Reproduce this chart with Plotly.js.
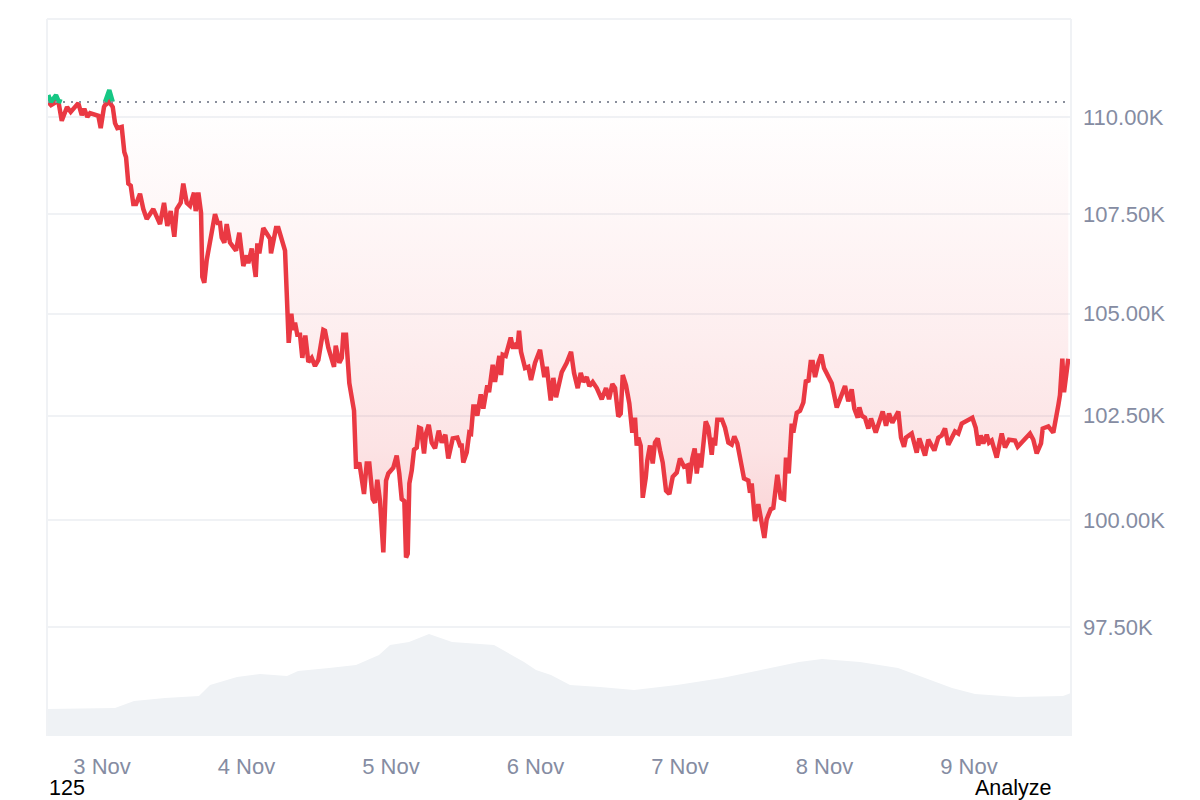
<!DOCTYPE html>
<html><head><meta charset="utf-8">
<script src="https://cdn.plot.ly/plotly-3.0.1.min.js"></script>
<style>html,body{margin:0;padding:0;background:#fff}</style></head>
<body><div id="chart" style="width:1200px;height:800px"></div>
<script>
// hours since 3 Nov 00:00
const hours=[-8.92,-8.47,-7.64,-7.23,-6.69,-6.15,-5.81,-5.2,-3.94,-3.37,-2.94,-2.44,-1.99,-0.61,-0.22,0.33,0.5,1.21,1.78,2.16,2.54,3.27,3.7,3.99,4.37,4.77,5.2,5.65,6.31,6.86,7.43,8.52,9.63,10.3,10.85,11.41,12.01,12.41,13.07,13.5,14.07,14.62,15.28,15.56,16,16.45,16.66,16.99,17.39,18.77,19.22,19.6,19.88,20.32,20.71,21.26,22.26,22.81,23.47,24.04,24.3,24.87,25.53,25.8,26.13,26.79,27.91,28.07,28.9,29.29,29.85,30.4,30.68,31.01,31.45,31.73,32.06,32.44,32.89,33.27,33.77,34.27,34.83,35.38,35.93,36.76,37.04,37.59,38.54,38.82,39.42,39.82,40.08,40.53,41.08,41.64,41.86,42.19,42.41,42.74,43.14,43.52,43.97,44.4,44.97,45.35,45.73,46.18,46.73,47.18,47.56,48.39,48.95,49.38,49.78,50.22,50.5,50.78,51.05,51.45,51.83,52.28,52.66,52.99,53.49,53.82,54.27,54.77,55.32,55.93,56.43,57.03,57.52,57.97,58.26,59.02,59.47,59.75,60.01,60.58,61.01,61.3,61.68,61.96,62.34,62.91,63.34,64,64.29,64.9,65.28,66,66.28,66.56,67.06,67.89,68.22,68.6,68.89,68.99,69.27,69.6,70.27,70.81,71.26,71.93,72.76,73.47,73.87,74.53,74.97,75.42,76.36,77.19,77.91,78.41,79.02,79.52,79.95,80.52,80.95,81.51,82.18,83.01,83.72,84.22,84.77,85.22,85.76,86.16,86.5,87.04,87.59,88.09,88.54,88.82,89.09,89.48,89.82,90.32,90.58,91.03,91.48,91.86,92.31,92.69,93.14,93.69,94.24,94.8,95.47,96.01,96.68,97.23,97.51,98.06,98.45,98.79,99.22,99.5,100.28,100.71,101.28,101.54,101.83,102.21,102.99,103.49,104.04,104.6,105.03,105.53,106.26,106.64,107.36,107.64,107.92,108.47,109.02,109.58,110.02,110.41,111.08,111.51,112.18,112.74,113.29,113.62,114.07,114.57,114.83,115.4,115.95,116.5,116.94,117.33,117.72,118.06,118.44,118.99,119.49,119.93,120.38,121.21,122.05,122.71,123.42,123.97,124.53,124.97,125.53,125.8,126.2,126.74,127.29,127.74,128.52,129.68,130.23,130.73,131.28,132.28,132.72,133.22,133.55,134.5,135.33,135.76,136.71,137.26,138.26,138.92,139.48,140.03,140.58,141.69,142.24,142.81,143.36,143.9,144.57,145.13,145.56,145.96,146.39,146.96,147.34,147.79,148.62,149.45,150,150.66,151.66,152.11,152.61,153.16,154.15,154.7,155.26,155.98,156.26,157.19,158.02,158.85,159.13,159.52,159.8,160.51];
// price in thousands of USD
const prices=[110.57,110.31,110.57,110.42,109.90,110.18,110.26,110.13,110.36,110.05,110.21,110.00,110.10,110.03,109.71,110.26,110.31,110.70,110.26,109.84,109.71,109.74,109.09,108.96,108.28,108.23,107.76,107.76,108.02,107.63,107.38,107.63,107.25,107.79,107.20,107.58,106.93,107.63,107.79,108.28,107.79,107.71,108.05,107.58,108.05,107.53,105.92,105.77,106.34,107.50,107.28,107.28,106.91,106.78,107.25,106.78,106.58,107.03,106.19,106.46,106.26,106.63,105.92,106.76,106.51,107.15,106.88,106.51,107.15,107.15,106.83,106.58,105.52,104.28,105.00,104.60,104.78,104.48,104.48,103.91,104.46,103.81,103.91,103.71,103.86,104.60,104.58,104.16,103.69,104.21,103.79,103.91,104.48,104.48,103.29,102.67,102.62,101.27,101.27,101.37,100.94,100.62,101.35,101.35,100.50,100.41,100.96,100.45,99.24,100.94,101.11,101.25,101.54,101.11,100.50,100.45,99.12,99.21,100.87,101.18,101.68,101.73,102.21,102.19,101.59,102.07,102.28,101.85,101.71,102.14,101.85,102.04,101.47,101.73,101.95,101.97,101.78,101.78,101.37,101.61,102.09,102.07,102.72,102.72,102.50,103.02,102.67,103.24,103.07,103.74,103.32,103.96,103.49,103.99,103.96,104.41,104.18,104.18,104.28,104.13,104.58,104.06,103.66,103.69,103.37,103.79,104.11,103.44,103.69,102.87,103.42,102.95,103.56,103.79,104.06,103.54,103.17,103.54,103.32,103.44,103.22,103.32,103.17,102.90,103.17,102.90,103.27,103.17,102.48,102.55,103.49,103.24,102.80,102.09,102.45,101.78,101.97,101.78,100.53,101.01,101.42,101.78,101.35,101.85,101.95,101.66,101.37,100.70,100.62,101.03,101.13,101.47,101.27,101.30,100.87,101.47,101.71,101.11,101.59,101.25,102.36,102.21,101.56,101.97,101.78,102.40,102.40,102.21,101.85,101.80,102.00,101.83,101.30,100.99,100.94,100.65,100.87,99.98,100.38,99.91,99.58,100.02,100.26,100.29,101.08,100.53,100.50,101.49,101.11,102.31,102.09,102.57,102.62,102.82,103.37,103.32,103.81,103.81,103.44,103.79,103.99,103.66,103.54,103.29,102.70,102.95,103.22,102.85,103.14,102.67,102.45,102.70,102.50,102.45,102.19,102.43,102.09,102.60,102.26,102.55,102.33,102.60,101.97,101.75,101.97,102.07,101.61,101.95,101.54,101.92,101.66,101.97,102.02,102.19,101.80,102.12,102.07,102.31,102.36,102.38,102.45,102.21,101.78,102.02,101.83,102.04,101.85,101.90,101.49,102.07,101.73,101.92,101.90,101.75,101.83,101.95,102.07,101.92,101.59,101.83,102.19,102.24,102.09,102.75,103.00,103.89,103.07,103.89];
const volHours=[-9.14,2.16,5.32,10.47,16.11,17.94,22.43,26.25,30.73,32.56,37.71,42.19,46.01,47.84,51,54.32,58.14,65.12,70.1,72.09,74.58,77.74,82.72,88.37,95.51,102.99,109.47,115.78,119.6,125.91,132.23,136.71,141.2,145.02,152,159.63,160.96];
const volumes=[27,28,35,38,40,51,59,62,60,65,68,71,81,91,94,102,94,91,74,66,61,51,49,46,51,58,66,74,77,74,68,58,48,42,39,40,43];
const basePrice=110.39;
const xTicks=[0,24,48,72,96,120,144];
const xLabels=['3 Nov','4 Nov','5 Nov','6 Nov','7 Nov','8 Nov','9 Nov'];
const yTicks=[97.5,100,102.5,105,107.5,110];
const yLabels=['97.50K','100.00K','102.50K','105.00K','107.50K','110.00K'];

const RED='#ea3943',GREEN='#16c784',GRID='#f0f2f5',LABEL='#858ca2';
const FONT='"Liberation Sans",Arial,sans-serif';
const lo=prices.map(p=>Math.min(p,basePrice));
const hi=prices.map(p=>Math.max(p,basePrice));
const hiLine=prices.map((p,i)=>(p>basePrice||prices[i-1]>basePrice||prices[i+1]>basePrice)?Math.max(p,basePrice):null);
const bx=[hours[0],hours[hours.length-1]];
const by=[basePrice,basePrice];
const none={width:0,color:'rgba(0,0,0,0)'};
const common={mode:'lines',hoverinfo:'skip',showlegend:false};
const traces=[
 {...common,x:volHours,y:volumes,yaxis:'y',fill:'tozeroy',fillcolor:'#eff2f5',line:none},
 {...common,x:bx,y:by,yaxis:'y2',line:none},
 {...common,x:hours,y:hi,yaxis:'y2',fill:'tonexty',fillcolor:GREEN,line:none},
 {...common,x:bx,y:by,yaxis:'y2',line:none},
 {...common,x:hours,y:lo,yaxis:'y2',fill:'tonexty',line:{color:RED,width:4.5},
  fillgradient:{type:'vertical',start:basePrice,stop:99,
   colorscale:[[0,'rgba(234,57,67,0)'],[0.5,'rgba(234,57,67,0.085)'],[0.75,'rgba(234,57,67,0.14)'],[1,'rgba(234,57,67,0.25)']]}},
 {...common,x:hours,y:hiLine,yaxis:'y2',line:{color:GREEN,width:4.5},connectgaps:false},
 {...common,x:[-9.14,160.3],y:by,yaxis:'y2',line:{color:'#8a8f9c',width:2,dash:'2px,6px'}}
];
const layout={
 width:1200,height:800,paper_bgcolor:'#fff',plot_bgcolor:'#fff',showlegend:false,
 margin:{l:47,r:129,t:19,b:64,pad:0},
 font:{family:FONT,size:22,color:LABEL},
 xaxis:{type:'linear',range:[-9.14,160.96],tickmode:'array',tickvals:xTicks,ticktext:xLabels,
  showgrid:false,zeroline:false,showline:false,ticks:'',ticklabelstandoff:15,
  tickfont:{family:FONT,size:22,color:LABEL}},
 yaxis:{type:'linear',range:[0,717],visible:false,fixedrange:true},
 yaxis2:{type:'log',range:[1.97784,2.05145],overlaying:'y',side:'right',tickmode:'array',
  tickvals:yTicks,ticktext:yLabels,showgrid:true,gridcolor:GRID,gridwidth:2,zeroline:false,
  showline:false,ticks:'',ticklabelstandoff:11,tickfont:{family:FONT,size:22,color:LABEL}},
 shapes:[
  {type:'line',xref:'paper',yref:'paper',x0:0,x1:0,y0:0,y1:1,line:{color:GRID,width:2}},
  {type:'line',xref:'paper',yref:'paper',x0:1,x1:1,y0:0,y1:1,line:{color:GRID,width:2}},
  {type:'line',xref:'paper',yref:'paper',x0:0,x1:1,y0:1,y1:1,line:{color:GRID,width:2}}
 ],
 annotations:[
  {xref:'paper',yref:'paper',x:0,y:-0.0725,xanchor:'left',yanchor:'middle',showarrow:false,text:'125',font:{family:FONT,size:21.5,color:'#000'}},
  {xref:'paper',yref:'paper',x:0.9045,y:-0.0725,xanchor:'left',yanchor:'middle',showarrow:false,text:'Analyze',font:{family:FONT,size:21.5,color:'#000'}}
 ]
};
Plotly.newPlot('chart',traces,layout,{displayModeBar:false,staticPlot:true});
</script></body></html>
